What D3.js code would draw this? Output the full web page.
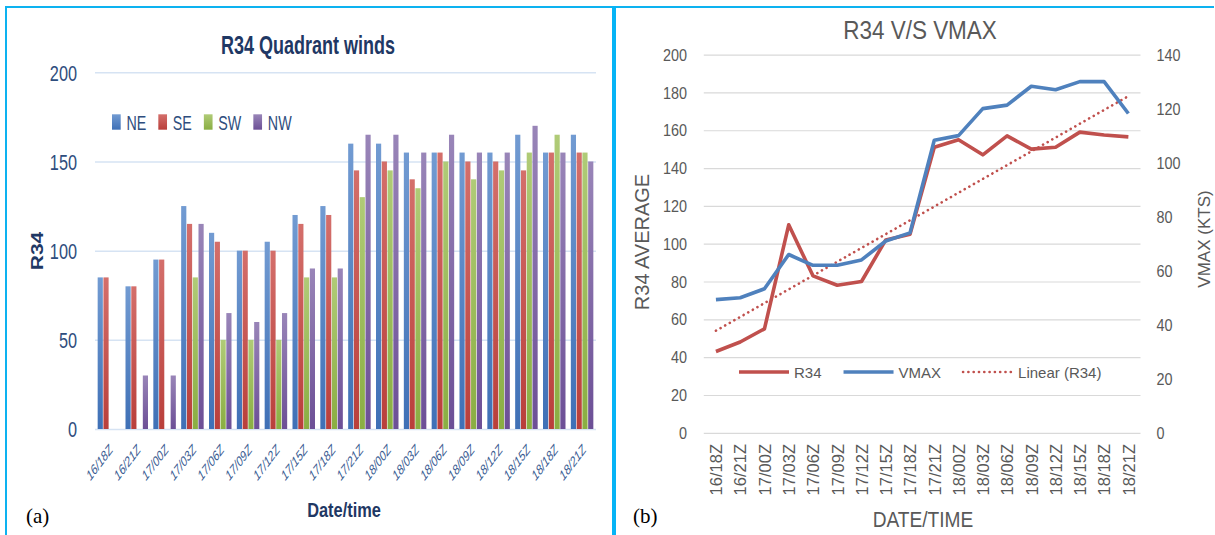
<!DOCTYPE html>
<html>
<head>
<meta charset="utf-8">
<script src="https://cdnjs.cloudflare.com/ajax/libs/d3/7.8.5/d3.min.js"></script>
<style>
  body { margin: 0; background: #fff; }
  svg { display: block; }
  text { font-family: "Liberation Sans", Arial, sans-serif; }
</style>
</head>
<body>
<script>
// ---- data ----
var times = ["16/18Z", "16/21Z", "17/00Z", "17/03Z", "17/06Z", "17/09Z", "17/12Z", "17/15Z", "17/18Z",
             "17/21Z", "18/00Z", "18/03Z", "18/06Z", "18/09Z", "18/12Z", "18/15Z", "18/18Z", "18/21Z"];
var quadrants = ["NE", "SE", "SW", "NW"];
var neVals = [85, 80, 95, 125, 110, 100, 105, 120, 125, 160, 160, 155, 155, 155, 155, 165, 155, 165];
var seVals = [85, 80, 95, 115, 105, 100, 100, 115, 120, 145, 150, 140, 155, 150, 150, 145, 155, 155];
var swVals = [0, 0, 0, 85, 50, 50, 50, 85, 85, 130, 145, 135, 150, 140, 145, 155, 165, 155];
var nwVals = [0, 30, 30, 115, 65, 60, 65, 90, 90, 165, 165, 155, 165, 155, 155, 170, 155, 150];
var r34Avg = [43, 48, 55, 110, 83, 78, 80, 102, 105, 151, 155, 147, 157, 150, 151, 159, 157.5, 156.5];
var vmax = [49.3, 50, 53.3, 66, 62, 62, 64, 71, 74, 108.3, 110, 120, 121.3, 128.3, 127, 130, 130, 118.2];
var barTicks = [0, 50, 100, 150, 200];
var r34Ticks = [0, 20, 40, 60, 80, 100, 120, 140, 160, 180, 200];
var vmaxTicks = [0, 20, 40, 60, 80, 100, 120, 140];

var W = 1215, H = 535;
var svg = d3.select("body").append("svg").attr("width", W).attr("height", H);

// frame lines
var cyan = "#0db2f0";
svg.append("rect").attr("x", 5).attr("y", 6).attr("width", 1209).attr("height", 2).attr("fill", cyan);
svg.append("rect").attr("x", 5).attr("y", 6).attr("width", 2).attr("height", H - 6).attr("fill", cyan);
svg.append("rect").attr("x", 612).attr("y", 6).attr("width", 4).attr("height", H - 6).attr("fill", "#06b4f6");

function label(g, str, x, y, o) {
  var tr = "translate(" + x + "," + y + ")";
  if (o.sx) tr += " scale(" + o.sx + ",1)";
  if (o.rot) tr += " rotate(" + o.rot + ")";
  return g.append("text").attr("transform", tr)
    .attr("text-anchor", o.anchor || "middle")
    .attr("dy", o.dy || null)
    .style("font-size", o.size + "px")
    .style("font-weight", o.bold ? "bold" : null)
    .style("font-style", o.italic ? "italic" : null)
    .style("font-family", o.family || null)
    .attr("fill", o.fill || "#000")
    .text(str);
}

// ================= (a) grouped bars =================
var ga = svg.append("g");
var colors = {NE: ["#729bd2", "#3f70b6"], SE: ["#d46f6b", "#b93f3b"], SW: ["#b0cb77", "#8aae42"], NW: ["#9985b8", "#6c4f96"]};
var defs = svg.append("defs");
quadrants.forEach(function(q) {
  var lg = defs.append("linearGradient").attr("id", "grad" + q).attr("x1", 0).attr("y1", 0).attr("x2", 0).attr("y2", 1);
  lg.append("stop").attr("offset", "0%").attr("stop-color", colors[q][0]);
  lg.append("stop").attr("offset", "100%").attr("stop-color", colors[q][1]);
});

var table = times.map(function(t, i) {
  return {time: t, NE: neVals[i], SE: seVals[i], SW: swVals[i], NW: nwVals[i]};
});

var xA = d3.scaleBand().domain(times).range([95, 596]).paddingInner(0.17).paddingOuter(0.085);
var xQ = d3.scaleBand().domain(quadrants).range([0, xA.bandwidth()]);
var yA = d3.scaleLinear().domain([0, 200]).range([429, 72.3]);

ga.append("g").attr("transform", "translate(95,0)")
  .call(d3.axisLeft(yA).tickValues(barTicks).tickSize(-(596 - 95)).tickFormat(""))
  .call(function(g) {
    g.select(".domain").remove();
    g.selectAll("line").attr("stroke", "#d6e3f3").attr("stroke-width", 1.5);
  });

ga.append("g").selectAll("g").data(table).enter().append("g")
  .attr("transform", function(d) { return "translate(" + xA(d.time) + ",0)"; })
  .selectAll("rect")
  .data(function(d) { return quadrants.map(function(q) { return {q: q, v: d[q]}; }); })
  .enter().append("rect")
  .attr("x", function(d) { return xQ(d.q) + 0.3; })
  .attr("width", xQ.bandwidth() - 0.6)
  .attr("y", function(d) { return yA(d.v); })
  .attr("height", function(d) { return yA(0) - yA(d.v); })
  .attr("fill", function(d) { return "url(#grad" + d.q + ")"; });

ga.append("g").attr("transform", "translate(77,0)")
  .call(d3.axisLeft(yA).tickValues(barTicks).tickSize(0).tickPadding(0))
  .call(function(g) {
    g.select(".domain").remove();
    g.selectAll("text").attr("x", 0).attr("dy", "0.35em").attr("transform", "scale(0.74,1)")
      .style("font-size", "22px").attr("fill", "#2e4d7d");
  });

ga.append("g").attr("transform", "translate(0,447)")
  .call(d3.axisBottom(xA).tickSize(0).tickPadding(0))
  .call(function(g) {
    g.select(".domain").remove();
    g.selectAll("text").attr("x", 0).attr("y", 0).attr("dy", "0.35em")
      .attr("text-anchor", "end")
      .attr("transform", "translate(2,0) scale(0.75,1) rotate(-45)")
      .style("font-size", "14px").style("font-style", "italic").attr("fill", "#3a5c92");
  });

label(ga, "R34 Quadrant winds", 308, 54, {size: 25, bold: true, sx: 0.72, fill: "#1f3864"});
label(ga, "R34", 37.6, 251, {size: 21, bold: true, sx: 0.75, rot: -90, dy: "0.35em", fill: "#1f3864"});
label(ga, "Date/time", 344, 517, {size: 21, bold: true, sx: 0.78, fill: "#1f3864"});
label(ga, "(a)", 26, 523, {size: 21, family: "'Liberation Serif', serif", anchor: "start"});

// legend (a)
var lx = 112;
quadrants.forEach(function(q) {
  ga.append("rect").attr("x", lx).attr("y", 114.3).attr("width", 8.7).attr("height", 15.4).attr("fill", "url(#grad" + q + ")");
  var t = label(ga, q, lx + 14.5, 129.7, {size: 21, sx: 0.68, anchor: "start", fill: "#2e4d7d"});
  lx += 14.5 + t.node().getComputedTextLength() * 0.68 + 12;
});

// ================= (b) lines =================
var gb = svg.append("g");
var x0 = 703.8, x1 = 1140.5;
var xB = d3.scalePoint().domain(times).range([x0, x1]).padding(0.5);
var yL = d3.scaleLinear().domain([0, 200]).range([432.8, 54.6]);
var yR = d3.scaleLinear().domain([0, 140]).range([432.8, 54.6]);
var grey = "#595959";

gb.append("g").attr("transform", "translate(" + x0 + ",0)")
  .call(d3.axisLeft(yL).tickValues(r34Ticks).tickSize(-(x1 - x0)).tickFormat(""))
  .call(function(g) {
    g.select(".domain").remove();
    g.selectAll("line").attr("stroke", "#d9d9d9").attr("stroke-width", 1.2);
  });

gb.append("g").attr("transform", "translate(687,0)")
  .call(d3.axisLeft(yL).tickValues(r34Ticks).tickSize(0).tickPadding(0))
  .call(function(g) {
    g.select(".domain").remove();
    g.selectAll("text").attr("x", 0).attr("dy", "0.35em").attr("transform", "scale(0.9,1)")
      .style("font-size", "16px").attr("fill", grey);
  });

gb.append("g").attr("transform", "translate(1156.5,0)")
  .call(d3.axisRight(yR).tickValues(vmaxTicks).tickSize(0).tickPadding(0))
  .call(function(g) {
    g.select(".domain").remove();
    g.selectAll("text").attr("x", 0).attr("dy", "0.35em").attr("transform", "scale(0.9,1)")
      .style("font-size", "16px").attr("fill", grey);
  });

gb.append("g").attr("transform", "translate(0,444)")
  .call(d3.axisBottom(xB).tickSize(0).tickPadding(0))
  .call(function(g) {
    g.select(".domain").remove();
    g.selectAll("text").attr("x", 0).attr("y", 0).attr("dy", "0.35em")
      .attr("text-anchor", "end").attr("transform", "rotate(-90)")
      .style("font-size", "16.5px").attr("fill", grey);
  });

// linear trend of R34 (least squares)
var idx = times.map(function(d, i) { return i + 1; });
var mx = d3.mean(idx), my = d3.mean(r34Avg);
var slope = d3.sum(idx, function(v, i) { return (v - mx) * (r34Avg[i] - my); }) /
            d3.sum(idx, function(v) { return (v - mx) * (v - mx); });
var icpt = my - slope * mx;
var trend = idx.map(function(v) { return icpt + slope * v; });

var lineL = d3.line().x(function(d, i) { return xB(times[i]); }).y(function(d) { return yL(d); });
var lineR = d3.line().x(function(d, i) { return xB(times[i]); }).y(function(d) { return yR(d); });

gb.append("path").datum(trend).attr("d", lineL)
  .attr("fill", "none").attr("stroke", "#c0504d").attr("stroke-width", 2.6)
  .attr("stroke-dasharray", "0.1,5.2").attr("stroke-linecap", "round");
gb.append("path").datum(r34Avg).attr("d", lineL)
  .attr("fill", "none").attr("stroke", "#c0504d").attr("stroke-width", 3.6).attr("stroke-linejoin", "round");
gb.append("path").datum(vmax).attr("d", lineR)
  .attr("fill", "none").attr("stroke", "#4f81bd").attr("stroke-width", 3.6).attr("stroke-linejoin", "round");

// legend (b)
var legB = [
  {name: "R34", color: "#c0504d", dash: null, w: 3.6},
  {name: "VMAX", color: "#4f81bd", dash: null, w: 3.6},
  {name: "Linear (R34)", color: "#c0504d", dash: "0.1,5.2", w: 2.6}
];
var bx = 739;
legB.forEach(function(d) {
  gb.append("line").attr("x1", bx).attr("x2", bx + 50).attr("y1", 372).attr("y2", 372)
    .attr("stroke", d.color).attr("stroke-width", d.w)
    .attr("stroke-dasharray", d.dash).attr("stroke-linecap", d.dash ? "round" : "butt");
  var t = label(gb, d.name, bx + 55, 377.5, {size: 15, anchor: "start", fill: grey});
  bx += 55 + t.node().getComputedTextLength() + 22;
});

label(gb, "R34 V/S VMAX", 920, 39, {size: 25, sx: 0.9, fill: grey});
label(gb, "R34 AVERAGE", 642, 242, {size: 20, rot: -90, dy: "0.35em", fill: grey});
label(gb, "VMAX (KTS)", 1204, 239, {size: 17, rot: -90, dy: "0.35em", fill: grey});
label(gb, "DATE/TIME", 923, 527, {size: 21.5, sx: 0.89, fill: grey});
label(gb, "(b)", 633, 523, {size: 21, family: "'Liberation Serif', serif", anchor: "start"});
</script>
</body>
</html>
